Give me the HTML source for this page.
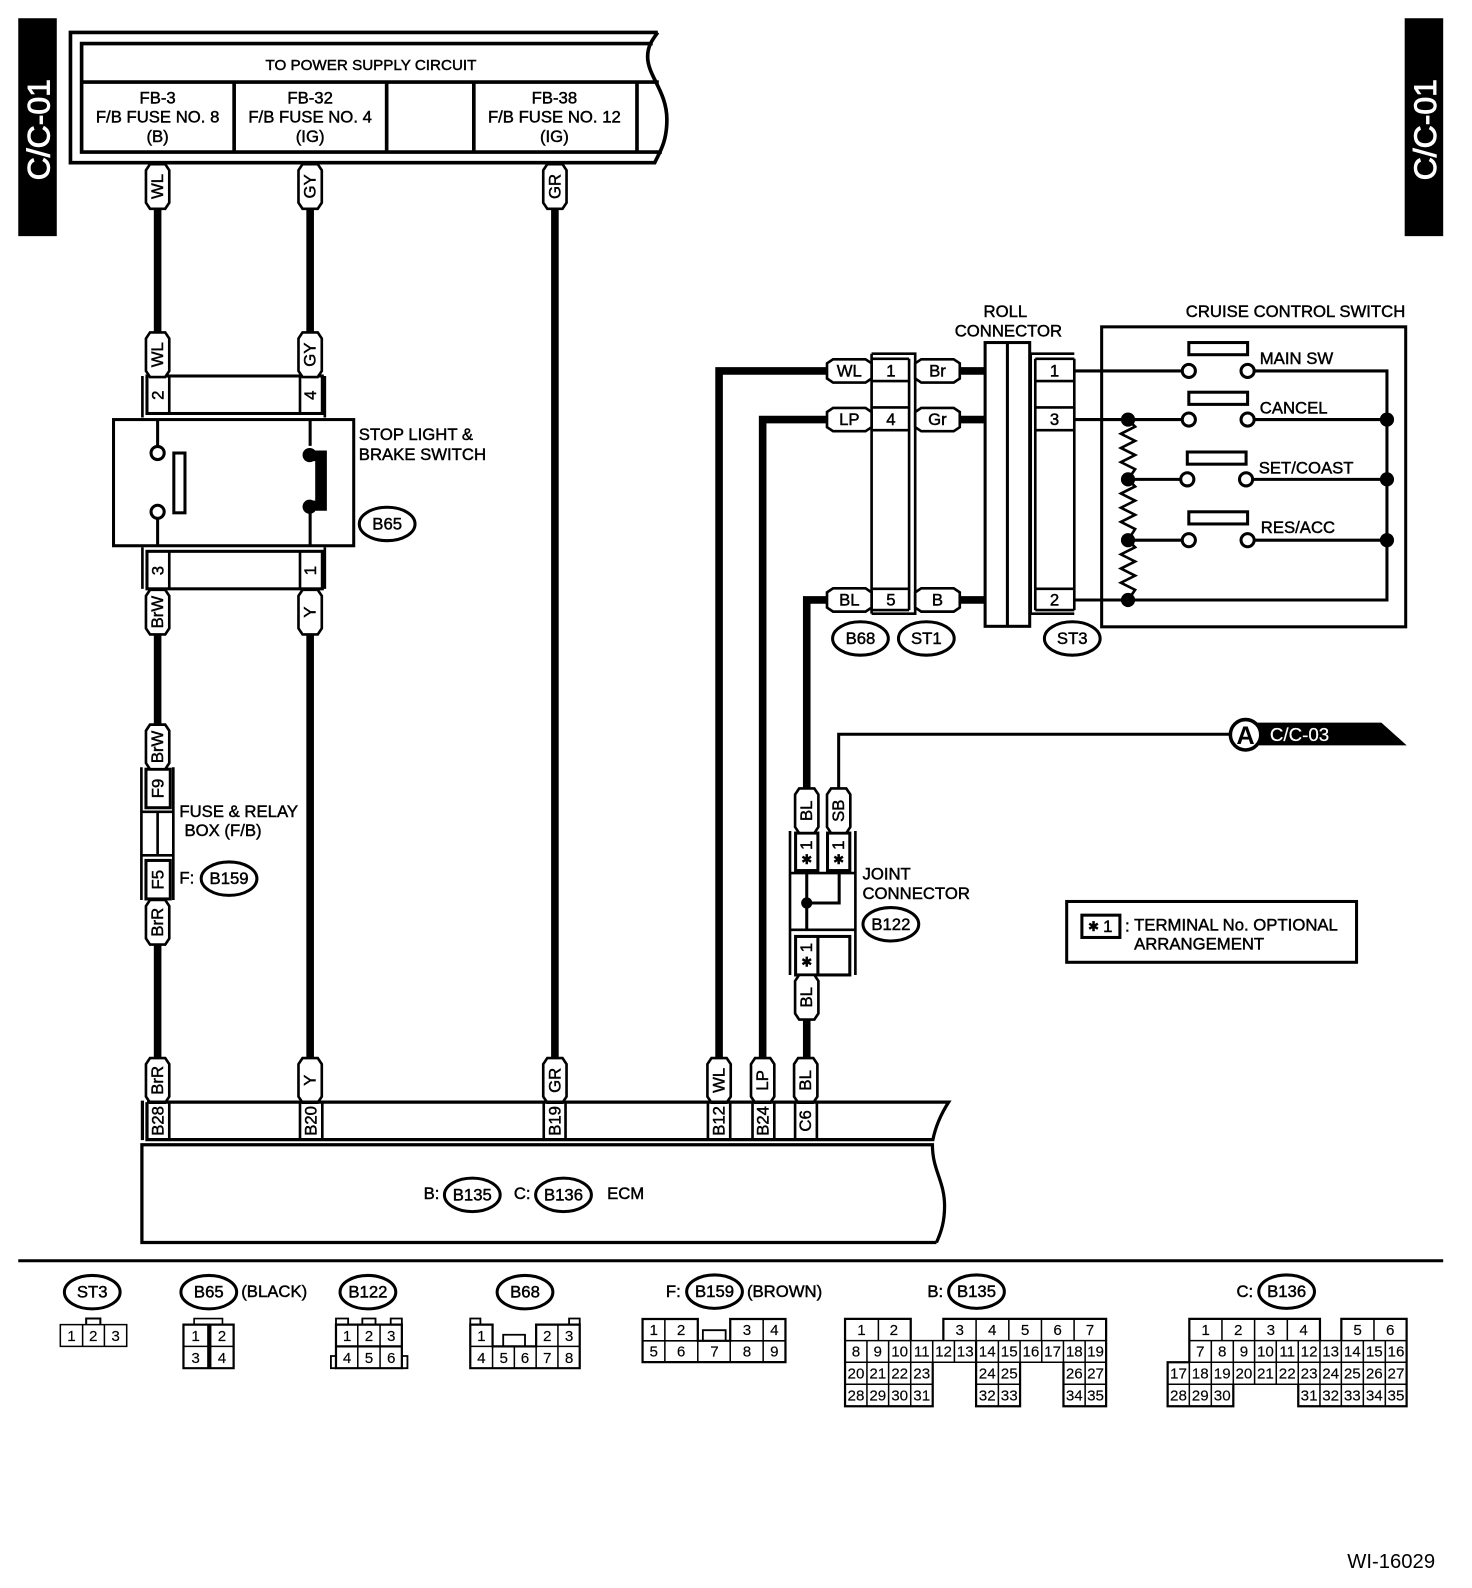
<!DOCTYPE html>
<html><head><meta charset="utf-8"><title>C/C-01 wiring diagram</title>
<style>
html,body{margin:0;padding:0;background:#fff}
svg{display:block}
text{font-family:"Liberation Sans",sans-serif;font-size:16.5px;fill:#000;stroke:#000;stroke-width:.45}
.m{text-anchor:middle}
.c{text-anchor:middle;dominant-baseline:central}
.n{text-anchor:middle;dominant-baseline:central;font-size:15px;stroke-width:.15;transform:translateY(.7px)}
.w{fill:#fff;stroke:#fff}
.t{fill:none;stroke:#000;stroke-width:3}
.f{fill:#fff;stroke:#000;stroke-width:3}
.k{fill:none;stroke:#000;stroke-width:7.5}
.p{fill:#fff;stroke:#000;stroke-width:2.6}
.g{fill:none;stroke:#000;stroke-width:1.5}
.o{fill:none;stroke:#000;stroke-width:2.6}
.q{fill:none;stroke:#000;stroke-width:2.2}
.s{font-family:"DejaVu Sans",sans-serif;font-size:13px}
</style></head><body>
<svg xmlns="http://www.w3.org/2000/svg" width="1472" height="1588" viewBox="0 0 1452.4 1566.9">
<defs>
<path id="v" class="p" d="M-7.5,-22H7.5L11.5,-16V16L7.5,22H-7.5L-11.5,16V-16Z"/>
<path id="h" class="p" d="M-22,-7.5V7.5L-16,11.5H16L22,7.5V-7.5L16,-11.5H-16Z"/>
<ellipse id="e" class="f" rx="27.5" ry="16.5"/>
</defs>
<rect width="1452.4" height="1566.9" fill="#fff"/>

<!-- side tabs -->
<rect x="18" y="18" width="38" height="215"/>
<rect x="1386" y="18" width="38" height="215"/>
<text class="c w" style="font-size:31.5px;stroke-width:.9" transform="translate(38,128) rotate(-90)">C/C-01</text>
<text class="c w" style="font-size:31.5px;stroke-width:.9" transform="translate(1406,128) rotate(-90)">C/C-01</text>

<!-- power supply box -->
<path class="o" style="stroke-width:3.6" d="M649,32H69.5V160.5H646C651,150 658,140 658,118C658,90 639,75 639,56C639,46 643,40 649,32"/>
<path class="o" style="stroke-width:3.6" d="M644,43H80.5V150H653M80.5,81H650M231,81V150M381.5,81V150M467.5,81V150M628.5,81V150"/>
<text class="m" style="font-size:15px" x="366" y="69">TO POWER SUPPLY CIRCUIT</text>
<text class="m" x="155.500" y="102">FB-3</text><text class="m" x="155.500" y="121">F/B FUSE NO. 8</text><text class="m" x="155.500" y="140">(B)</text>
<text class="m" x="306" y="102">FB-32</text><text class="m" x="306" y="121">F/B FUSE NO. 4</text><text class="m" x="306" y="140">(IG)</text>
<text class="m" x="547" y="102">FB-38</text><text class="m" x="547" y="121">F/B FUSE NO. 12</text><text class="m" x="547" y="140">(IG)</text>

<!-- thick wires -->
<path class="k" d="M155.500,206V328M306,206V328M547.500,206V1044M155.500,626V716M306,626V1044M155.500,932V1044"/>
<path class="k" style="stroke-width:7.5" d="M816,366H709.500V1044M816,414H752.500V1044M816,592H796V778M796,1006V1044M947,366H972M947,414H972M947,592H972"/>

<!-- stop light connector top -->
<path class="o" d="M140.500,371V412M320.500,371V412"/>
<rect class="f" x="145" y="371" width="173" height="37"/>
<path class="o" d="M167,371V408M296,371V408"/>
<text class="c" transform="translate(156,390) rotate(-90)">2</text>
<text class="c" transform="translate(306.500,390) rotate(-90)">4</text>

<!-- switch box -->
<rect class="f" x="112" y="414" width="237" height="124.500"/>
<path class="t" d="M155.500,414V440M155.500,512V538M306,414V440M306,505V538"/>
<circle class="f" cx="155.500" cy="447" r="6.500"/><circle class="f" cx="155.500" cy="505" r="6.500"/>
<rect class="f" x="171.500" y="447" width="11" height="59"/>
<circle cx="305.500" cy="449" r="7"/><circle cx="305.500" cy="500" r="7"/>
<path d="M306,444.500H322.500V504H306V494H311V455H306Z"/>
<text x="354" y="434">STOP LIGHT &amp;</text><text x="354" y="454">BRAKE SWITCH</text>
<use href="#e" x="382" y="517"/><text class="c" x="382" y="517">B65</text>

<!-- stop light connector bottom -->
<path class="o" d="M140.500,540V581M320.500,540V581"/>
<rect class="f" x="145" y="544" width="173" height="37"/>
<path class="o" d="M167,544V581M296,544V581"/>
<text class="c" transform="translate(156,563) rotate(-90)">3</text>
<text class="c" transform="translate(306.500,563) rotate(-90)">1</text>

<!-- fuse relay box -->
<path class="o" d="M139.500,757V888M171,757V888M139.500,801H171M139.500,844H171M155.500,801V844"/>
<rect class="f" x="144" y="759" width="24" height="38"/>
<rect class="f" x="144" y="849" width="24" height="38"/>
<text class="c" transform="translate(156,778) rotate(-90)">F9</text>
<text class="c" transform="translate(156,868) rotate(-90)">F5</text>
<text x="177" y="806">FUSE &amp; RELAY</text><text x="182" y="825">BOX (F/B)</text>
<text x="177" y="872">F:</text>
<use href="#e" x="226" y="867"/><text class="c" x="226" y="867">B159</text>

<!-- vertical wire labels -->
<use href="#v" x="155.500" y="184"/><text class="c" transform="translate(155.500,184) rotate(-90)">WL</text>
<use href="#v" x="306" y="184"/><text class="c" transform="translate(306,184) rotate(-90)">GY</text>
<use href="#v" x="547.500" y="184"/><text class="c" transform="translate(547.500,184) rotate(-90)">GR</text>
<use href="#v" x="155.500" y="350"/><text class="c" transform="translate(155.500,350) rotate(-90)">WL</text>
<use href="#v" x="306" y="350"/><text class="c" transform="translate(306,350) rotate(-90)">GY</text>
<use href="#v" x="155.500" y="604"/><text class="c" transform="translate(155.500,604) rotate(-90)">BrW</text>
<use href="#v" x="306" y="604"/><text class="c" transform="translate(306,604) rotate(-90)">Y</text>
<use href="#v" x="155.500" y="737"/><text class="c" transform="translate(155.500,737) rotate(-90)">BrW</text>
<use href="#v" x="155.500" y="910"/><text class="c" transform="translate(155.500,910) rotate(-90)">BrR</text>
<use href="#v" x="155.500" y="1066"/><text class="c" transform="translate(155.500,1066) rotate(-90)">BrR</text>
<use href="#v" x="306" y="1066"/><text class="c" transform="translate(306,1066) rotate(-90)">Y</text>
<use href="#v" x="547.500" y="1066"/><text class="c" transform="translate(547.500,1066) rotate(-90)">GR</text>
<use href="#v" x="709.500" y="1066"/><text class="c" transform="translate(709.500,1066) rotate(-90)">WL</text>
<use href="#v" x="752.500" y="1066"/><text class="c" transform="translate(752.500,1066) rotate(-90)">LP</text>
<use href="#v" x="795" y="1066"/><text class="c" transform="translate(795,1066) rotate(-90)">BL</text>

<!-- B68/ST1 connector -->
<path class="o" d="M860,349V605.500M897,354V602M860,349H903V605.500H860"/>
<path class="o" d="M860,354H897M860,376H897M860,402H897M860,424.500H897M860,581H897M860,602H897"/>
<text class="c" x="879" y="366">1</text><text class="c" x="879" y="414">4</text><text class="c" x="879" y="592">5</text>
<use href="#h" x="838" y="366"/><text class="c" x="838" y="366">WL</text>
<use href="#h" x="838" y="414"/><text class="c" x="838" y="414">LP</text>
<use href="#h" x="838" y="592"/><text class="c" x="838" y="592">BL</text>
<use href="#h" x="925" y="366"/><text class="c" x="925" y="366">Br</text>
<use href="#h" x="925" y="414"/><text class="c" x="925" y="414">Gr</text>
<use href="#h" x="925" y="592"/><text class="c" x="925" y="592">B</text>
<use href="#e" x="849" y="630"/><text class="c" x="849" y="630">B68</text>
<use href="#e" x="914" y="630"/><text class="c" x="914" y="630">ST1</text>
<use href="#e" x="1058" y="630"/><text class="c" x="1058" y="630">ST3</text>

<!-- roll connector -->
<rect class="f" x="972" y="338" width="44" height="280"/>
<path class="t" d="M994,338V618"/>
<text class="m" x="992" y="313">ROLL</text><text class="m" x="995" y="332">CONNECTOR</text>

<!-- ST3 connector -->
<path class="o" d="M1060,349H1017V605.500H1060M1021.500,354V602M1060,354V602"/>
<path class="o" d="M1021.500,354H1060M1021.500,376H1060M1021.500,402H1060M1021.500,424.500H1060M1021.500,581H1060M1021.500,602H1060"/>
<text class="c" x="1040.500" y="366">1</text><text class="c" x="1040.500" y="414">3</text><text class="c" x="1040.500" y="592">2</text>

<!-- cruise switch -->
<rect class="t" x="1087" y="322.500" width="300" height="296"/>
<text x="1170" y="313">CRUISE CONTROL SWITCH</text>
<path class="t" d="M1060,366H1167M1231,366H1368.500V592H1060M1060,414H1167M1231,414H1368.500M1113,473H1165M1229,473H1368.500M1113,533H1167M1231,533H1368.500"/>
<path class="t" style="stroke-width:2.6" d="M1113,414L1120,421L1106,428L1120,435L1106,442L1120,449L1106,456L1120,463L1113,473L1120,480L1106,487L1120,494L1106,501L1120,508L1106,515L1120,522L1113,533L1120,540L1106,547L1120,554L1106,561L1120,568L1106,575L1120,582L1113,592"/>
<circle cx="1113" cy="414" r="7"/><circle cx="1113" cy="473" r="7"/><circle cx="1113" cy="533" r="7"/><circle cx="1113" cy="592" r="7"/>
<circle cx="1368.500" cy="414" r="7"/><circle cx="1368.500" cy="473" r="7"/><circle cx="1368.500" cy="533" r="7"/>
<g class="f"><circle class="f" cx="1173" cy="366" r="6.500"/><circle class="f" cx="1231" cy="366" r="6.500"/><circle class="f" cx="1173" cy="414" r="6.500"/><circle class="f" cx="1231" cy="414" r="6.500"/><circle class="f" cx="1171.500" cy="473" r="6.500"/><circle class="f" cx="1229.500" cy="473" r="6.500"/><circle class="f" cx="1173" cy="533" r="6.500"/><circle class="f" cx="1231" cy="533" r="6.500"/></g>
<rect class="f" x="1173" y="338" width="58" height="12"/><rect class="f" x="1173" y="387" width="58" height="12"/><rect class="f" x="1171.500" y="446" width="58" height="12"/><rect class="f" x="1173" y="505" width="58" height="12"/>
<text x="1243" y="359">MAIN SW</text><text x="1243" y="408">CANCEL</text><text x="1242" y="467">SET/COAST</text><text x="1244" y="526">RES/ACC</text>

<!-- A connector -->
<path class="t" d="M827.500,778V724.500H1215"/>
<path d="M1240,713H1363L1388,735.500H1240Z"/>
<circle class="f" style="stroke-width:3.5" cx="1229" cy="725" r="15"/>
<text class="c" style="font-size:25px;font-weight:bold;stroke-width:0" x="1229" y="726">A</text>
<text class="w" style="stroke-width:.2;font-size:18.5px" x="1253" y="731">C/C-03</text>

<!-- joint connector -->
<path class="o" d="M779.500,820V962M844,820V962M779.500,861.500H844M779.500,917.500H844"/>
<path class="t" d="M796,861.500V917.500M828,861.500V891H796"/>
<circle cx="796" cy="891" r="5.500"/>
<rect class="f" x="785" y="822" width="22" height="37"/><rect class="f" x="816.500" y="822" width="22" height="37"/>
<rect class="f" x="785" y="924" width="53.500" height="38"/><path class="t" d="M807,924V962"/>
<text class="c" transform="translate(796,834) rotate(-90)">1</text><text class="c s" x="796" y="849">✱</text>
<text class="c" transform="translate(827.500,834) rotate(-90)">1</text><text class="c s" x="827.500" y="849">✱</text>
<text class="c" transform="translate(796,935) rotate(-90)">1</text><text class="c s" x="796" y="950">✱</text>
<use href="#v" x="796" y="800"/><text class="c" transform="translate(796,800) rotate(-90)">BL</text>
<use href="#v" x="827.500" y="800"/><text class="c" transform="translate(827.500,800) rotate(-90)">SB</text>
<use href="#v" x="796" y="984"/><text class="c" transform="translate(796,984) rotate(-90)">BL</text>
<text x="851" y="868">JOINT</text><text x="851" y="887">CONNECTOR</text>
<use href="#e" x="879" y="912"/><text class="c" x="879" y="912">B122</text>

<!-- legend -->
<rect class="t" x="1052.500" y="889.500" width="286" height="60"/>
<rect class="t" x="1067.500" y="903" width="37.500" height="22"/>
<text class="c s" x="1079" y="915">✱</text><text class="c" x="1093" y="914">1</text>
<text x="1110" y="919">:</text>
<text x="1119" y="918">TERMINAL No. OPTIONAL</text><text x="1119" y="937">ARRANGEMENT</text>

<!-- ECM -->
<path class="o" style="stroke-width:3.2" d="M140.500,1086V1125M145,1087.500H936C928,1100 923,1112 920.500,1124.500H145V1087.500"/>
<path class="o" d="M145,1088V1125M167,1088V1125M296,1088V1125M318,1088V1125M536.500,1088V1125M558,1088V1125M698.500,1088V1125M720.500,1088V1125M742.500,1088V1125M764,1088V1125M784.500,1088V1125M806,1088V1125"/>
<text class="c" transform="translate(156,1106) rotate(-90)">B28</text>
<text class="c" transform="translate(307,1106) rotate(-90)">B20</text>
<text class="c" transform="translate(547.500,1106) rotate(-90)">B19</text>
<text class="c" transform="translate(709.500,1106) rotate(-90)">B12</text>
<text class="c" transform="translate(753,1106) rotate(-90)">B24</text>
<text class="c" transform="translate(795,1106) rotate(-90)">C6</text>
<path class="o" style="stroke-width:3.2" d="M924,1226H140V1129.500H920C920,1155 932,1165 932,1190C932,1205 929,1215 924,1226"/>
<text x="418" y="1183">B:</text><use href="#e" x="466" y="1179"/><text class="c" x="466" y="1179">B135</text>
<text x="507" y="1183">C:</text><use href="#e" x="556" y="1179"/><text class="c" x="556" y="1179">B136</text>
<text x="599" y="1183">ECM</text>

<!-- divider -->
<path class="t" d="M18,1244H1424"/>

<!-- ST3 -->
<use href="#e" x="91" y="1275"/><text class="c" x="91" y="1275">ST3</text>
<path class="g" d="M59.500,1307H125V1328.500H59.500ZM81.500,1307V1328.500M103,1307V1328.500"/>
<path class="o" style="stroke-width:2" d="M85,1307V1301H99V1307"/>
<text class="n" x="70.500" y="1318">1</text><text class="n" x="92" y="1318">2</text><text class="n" x="114" y="1318">3</text>

<!-- B65 -->
<use href="#e" x="206" y="1275"/><text class="c" x="206" y="1275">B65</text>
<text x="238" y="1280">(BLACK)</text>
<path class="o" style="stroke-width:1.6" d="M191.500,1307V1301H219.500V1307"/>
<path class="q" d="M181,1307H205.500V1350H181ZM207.500,1307H230.500V1350H207.500Z"/>
<path class="g" d="M181,1328.500H205.500M207.500,1328.500H230.500"/>
<text class="n" x="193" y="1318">1</text><text class="n" x="219" y="1318">2</text><text class="n" x="193" y="1340">3</text><text class="n" x="219" y="1340">4</text>

<!-- B122 -->
<use href="#e" x="363" y="1275"/><text class="c" x="363" y="1275">B122</text>
<path class="o" style="stroke-width:1.8" d="M331.500,1307V1301H343.500V1307M357.500,1307V1301H370.500V1307M385.500,1307V1301H396.500V1307M331.500,1338H326.500V1350H331.500M396.500,1338H402V1350H396.500"/>
<path class="q" d="M331.500,1307H396.500V1350H331.500ZM331.500,1328.500H396.500"/>
<path class="g" d="M353,1307V1350M375,1307V1350"/>
<text class="n" x="342.500" y="1318">1</text><text class="n" x="364" y="1318">2</text><text class="n" x="386" y="1318">3</text>
<text class="n" x="342.500" y="1340">4</text><text class="n" x="364" y="1340">5</text><text class="n" x="386" y="1340">6</text>

<!-- B68 -->
<use href="#e" x="518" y="1275"/><text class="c" x="518" y="1275">B68</text>
<path class="o" style="stroke-width:1.8" d="M464,1307V1301H474V1307M561.500,1307V1301H572V1307M496.500,1328.500V1317H518V1328.500"/>
<path class="q" d="M464,1307H486V1328.500H529V1307H572V1350H464Z"/>
<path class="g" d="M464,1328.500H572M486,1328.500V1350M507.500,1328.500V1350M529,1328.500V1350M550.500,1307V1350"/>
<text class="n" x="475" y="1318">1</text><text class="n" x="540" y="1318">2</text><text class="n" x="561.500" y="1318">3</text>
<text class="n" x="475" y="1340">4</text><text class="n" x="497" y="1340">5</text><text class="n" x="518" y="1340">6</text><text class="n" x="540" y="1340">7</text><text class="n" x="561.500" y="1340">8</text>

<!-- B159 -->
<text x="657" y="1280">F:</text>
<use href="#e" x="705" y="1274.500"/><text class="c" x="705" y="1274.500">B159</text>
<text x="737" y="1280">(BROWN)</text>
<path class="q" d="M634,1301.500H688.500V1323H720.500V1301.500H775V1344H634Z"/>
<path class="g" d="M634,1323H775M656,1301.500V1344M688.500,1323V1344M720.500,1323V1344M753,1301.500V1344"/>
<path class="o" style="stroke-width:1.8" d="M693.500,1323V1312.500H716V1323"/>
<text class="n" x="645" y="1312">1</text><text class="n" x="672" y="1312">2</text><text class="n" x="737" y="1312">3</text><text class="n" x="764" y="1312">4</text>
<text class="n" x="645" y="1333.500">5</text><text class="n" x="672" y="1333.500">6</text><text class="n" x="705" y="1333.500">7</text><text class="n" x="737" y="1333.500">8</text><text class="n" x="764" y="1333.500">9</text>

<!-- B135 -->
<text x="915" y="1280">B:</text>
<use href="#e" x="963.500" y="1274.500"/><text class="c" x="963.500" y="1274.500">B135</text>
<path class="q" d="M920.300,1344.200V1387.600H833.800V1301.400H898.600V1322.800M930.800,1322.800V1301.400H1091.400V1387.600H1049.300V1344.200M1006.500,1344.200V1387.600H963.100V1322.800"/>
<path class="g" d="M833.800,1322.800H1091.400M833.800,1344.200H1091.400M833.800,1365.900H920.300M963.100,1365.900H1006.500M1049.300,1365.900H1091.400M866.700,1301.400V1322.800M963.100,1301.400V1322.800M995.400,1301.400V1322.800M1027.600,1301.400V1322.800M1059.800,1301.400V1322.800M855.400,1322.800V1387.600M876.800,1322.800V1387.600M898.600,1322.800V1387.600M920.300,1322.800V1344.200M941.700,1322.800V1344.200M985.100,1322.800V1387.600M1006.500,1322.800V1344.200M1027.900,1322.800V1344.200M1049.300,1322.800V1344.200M1070.700,1322.800V1387.600"/>
<text class="n" x="850" y="1312">1</text><text class="n" x="882" y="1312">2</text><text class="n" x="947" y="1312">3</text><text class="n" x="979" y="1312">4</text><text class="n" x="1011.500" y="1312">5</text><text class="n" x="1043.500" y="1312">6</text><text class="n" x="1075.500" y="1312">7</text>
<text class="n" x="844.600" y="1333.500">8</text><text class="n" x="866.100" y="1333.500">9</text><text class="n" x="887.700" y="1333.500">10</text><text class="n" x="909.500" y="1333.500">11</text><text class="n" x="931" y="1333.500">12</text><text class="n" x="952.400" y="1333.500">13</text><text class="n" x="974.100" y="1333.500">14</text><text class="n" x="995.800" y="1333.500">15</text><text class="n" x="1017.200" y="1333.500">16</text><text class="n" x="1038.600" y="1333.500">17</text><text class="n" x="1060" y="1333.500">18</text><text class="n" x="1081" y="1333.500">19</text>
<text class="n" x="844.600" y="1355">20</text><text class="n" x="866.100" y="1355">21</text><text class="n" x="887.700" y="1355">22</text><text class="n" x="909.500" y="1355">23</text><text class="n" x="974.100" y="1355">24</text><text class="n" x="995.800" y="1355">25</text><text class="n" x="1060" y="1355">26</text><text class="n" x="1081" y="1355">27</text>
<text class="n" x="844.600" y="1377">28</text><text class="n" x="866.100" y="1377">29</text><text class="n" x="887.700" y="1377">30</text><text class="n" x="909.500" y="1377">31</text><text class="n" x="974.100" y="1377">32</text><text class="n" x="995.800" y="1377">33</text><text class="n" x="1060" y="1377">34</text><text class="n" x="1081" y="1377">35</text>

<!-- B136 -->
<text x="1220" y="1280">C:</text>
<use href="#e" x="1269.500" y="1274.500"/><text class="c" x="1269.500" y="1274.500">B136</text>
<path class="q" d="M1302.400,1322.800V1301.400H1173.500V1344.200M1323.500,1322.800V1301.400H1387.900V1387.600H1281V1365.900M1216.900,1365.900V1387.600H1152.100V1344.200H1173.500"/>
<path class="g" d="M1173.500,1322.800H1387.900M1173.500,1344.200H1387.900M1152.100,1365.900H1387.900M1205.700,1301.400V1322.800M1237.900,1301.400V1365.900M1270.200,1301.400V1322.800M1355.700,1301.400V1322.800M1173.500,1344.200V1387.600M1195.200,1322.800V1387.600M1216.900,1322.800V1365.900M1259.300,1322.800V1365.900M1281,1322.800V1365.900M1302.400,1322.800V1387.600M1323.500,1322.800V1387.600M1345.200,1322.800V1387.600M1366.900,1322.800V1387.600"/>
<text class="n" x="1189.600" y="1312">1</text><text class="n" x="1221.800" y="1312">2</text><text class="n" x="1254" y="1312">3</text><text class="n" x="1286.300" y="1312">4</text><text class="n" x="1339.600" y="1312">5</text><text class="n" x="1371.800" y="1312">6</text>
<text class="n" x="1184.300" y="1333.500">7</text><text class="n" x="1206" y="1333.500">8</text><text class="n" x="1227.400" y="1333.500">9</text><text class="n" x="1248.600" y="1333.500">10</text><text class="n" x="1270.100" y="1333.500">11</text><text class="n" x="1291.700" y="1333.500">12</text><text class="n" x="1313" y="1333.500">13</text><text class="n" x="1334.300" y="1333.500">14</text><text class="n" x="1356" y="1333.500">15</text><text class="n" x="1377.400" y="1333.500">16</text>
<text class="n" x="1162.800" y="1355">17</text><text class="n" x="1184.300" y="1355">18</text><text class="n" x="1206" y="1355">19</text><text class="n" x="1227.400" y="1355">20</text><text class="n" x="1248.600" y="1355">21</text><text class="n" x="1270.100" y="1355">22</text><text class="n" x="1291.700" y="1355">23</text><text class="n" x="1313" y="1355">24</text><text class="n" x="1334.300" y="1355">25</text><text class="n" x="1356" y="1355">26</text><text class="n" x="1377.400" y="1355">27</text>
<text class="n" x="1162.800" y="1377">28</text><text class="n" x="1184.300" y="1377">29</text><text class="n" x="1206" y="1377">30</text><text class="n" x="1291.700" y="1377">31</text><text class="n" x="1313" y="1377">32</text><text class="n" x="1334.300" y="1377">33</text><text class="n" x="1356" y="1377">34</text><text class="n" x="1377.400" y="1377">35</text>

<text style="font-size:20px;stroke-width:0;text-anchor:end" x="1416" y="1547">WI-16029</text>
</svg>
</body></html>
